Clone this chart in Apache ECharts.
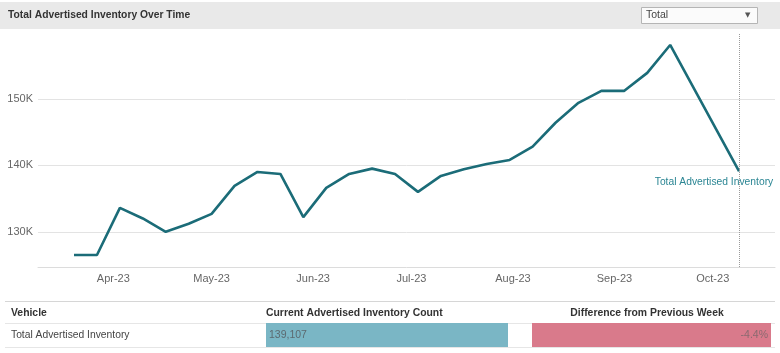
<!DOCTYPE html>
<html>
<head>
<meta charset="utf-8">
<script src="https://cdn.jsdelivr.net/npm/echarts@6/dist/echarts.min.js"></script>
<style>
  html, body { margin: 0; padding: 0; background: #fff; }
  #chart { width: 780px; height: 353px; }
</style>
</head>
<body>
<div id="chart"></div>
<script>
  // weekly snapshots (Mon) - two weeks in late Sep / early Oct have no value
  const weeks = [
    '2023-03-20', '2023-03-27', '2023-04-03', '2023-04-10', '2023-04-17', '2023-04-24',
    '2023-05-01', '2023-05-08', '2023-05-15', '2023-05-22', '2023-05-29', '2023-06-05',
    '2023-06-12', '2023-06-19', '2023-06-26', '2023-07-03', '2023-07-10', '2023-07-17',
    '2023-07-24', '2023-07-31', '2023-08-07', '2023-08-14', '2023-08-21', '2023-08-28',
    '2023-09-04', '2023-09-11', '2023-09-18', '2023-09-25', '2023-10-02', '2023-10-09'
  ]
  const inventory = [
    126500, 126500, 133600, 132000, 130000, 131200,
    132700, 136900, 139000, 138700, 132200, 136600,
    138700, 139500, 138700, 136000, 138400, 139400,
    140200, 140800, 142800, 146400, 149400, 151200,
    151200, 153900, 158100, null, null, 139107
  ]
  const yTicks = [130000, 140000, 150000]
  const seriesName = 'Total Advertised Inventory'

  const tableHeaders = ['Vehicle', 'Current Advertised Inventory Count', 'Difference from Previous Week']
  const tableVehicle = ['Total Advertised Inventory']
  const tableCount = [139107]
  const tableDiff = [-4.4]

  const teal = '#1b6c78'
  const font = 'Liberation Sans, Arial, sans-serif'

  const lastIdx = weeks.length - 1
  const lineData = weeks.map((d, i) => [d, inventory[i]])

  const chart = echarts.init(document.getElementById('chart'), null, { renderer: 'canvas' })

  const option = {
    animation: false,
    textStyle: { fontFamily: font },
    grid: [
      { left: 38, right: 5, top: 33, height: 234 },
      { left: 266, top: 323, width: 242, height: 24 },
      { left: 532, top: 323, width: 239, height: 24 }
    ],
    xAxis: [
      {
        type: 'time',
        gridIndex: 0,
        min: '2023-03-09',
        max: '2023-10-20',
        splitNumber: 7,
        maxInterval: 31 * 86400000,
        axisLine: { lineStyle: { color: '#dcdcdc', width: 1 } },
        axisTick: { show: false },
        splitLine: { show: false },
        axisLabel: {
          formatter: '{MMM}-{yy}',
          color: '#666',
          fontSize: 11,
          margin: 6,
          showMinLabel: false,
          showMaxLabel: false
        }
      },
      { type: 'value', gridIndex: 1, min: 0, max: 'dataMax', show: false },
      { type: 'value', gridIndex: 2, min: 'dataMin', max: 0, show: false }
    ],
    yAxis: [
      {
        type: 'value',
        gridIndex: 0,
        min: 124700,
        max: 159900,
        axisLine: { show: false },
        axisTick: { show: false, customValues: yTicks },
        splitLine: { lineStyle: { color: '#e3e3e3', width: 1 } },
        axisLabel: {
          customValues: yTicks,
          color: '#666',
          fontSize: 11,
          margin: 5,
          formatter: v => (v / 1000) + 'K'
        }
      },
      { type: 'category', gridIndex: 1, data: tableVehicle, show: false },
      { type: 'category', gridIndex: 2, data: tableVehicle, show: false }
    ],
    series: [
      {
        name: seriesName,
        type: 'line',
        xAxisIndex: 0,
        yAxisIndex: 0,
        data: lineData,
        connectNulls: true,
        showSymbol: false,
        symbol: 'none',
        lineStyle: { color: teal, width: 2.6 },
        markLine: {
          silent: true,
          symbol: 'none',
          label: { show: false },
          lineStyle: { color: '#9a9a9a', type: 'dotted', width: 1 },
          data: [{ xAxis: weeks[lastIdx] }]
        },
        markPoint: {
          silent: true,
          symbol: 'circle',
          symbolSize: 1,
          itemStyle: { color: teal },
          label: {
            show: true,
            position: 'bottom',
            distance: 5,
            offset: [-25, 0],
            formatter: seriesName,
            color: '#2a8593',
            fontSize: 10.3
          },
          data: [{ coord: [weeks[lastIdx], inventory[lastIdx]] }]
        }
      },
      {
        type: 'bar',
        xAxisIndex: 1,
        yAxisIndex: 1,
        data: tableCount,
        barWidth: '100%',
        itemStyle: { color: '#7ab6c5' },
        silent: true
      },
      {
        type: 'bar',
        xAxisIndex: 2,
        yAxisIndex: 2,
        data: tableDiff,
        barWidth: '100%',
        itemStyle: { color: '#d97a8b' },
        silent: true
      }
    ],
    graphic: [
      // header band + dropdown
      { type: 'rect', z: -1, shape: { x: 0, y: 2, width: 780, height: 27 }, style: { fill: '#e9e9e9' } },
      {
        type: 'text', left: 8, top: 10,
        style: { text: 'Total Advertised Inventory Over Time', fill: '#333', font: 'bold 10.3px ' + font }
      },
      { type: 'rect', shape: { x: 641.5, y: 7.5, width: 116, height: 16 }, style: { fill: '#fbfbfb', stroke: '#b5b5b5', lineWidth: 1 } },
      { type: 'text', left: 646, top: 10, style: { text: 'Total', fill: '#444', font: '10.5px ' + font } },
      { type: 'text', left: 745, top: 12, style: { text: '▼', fill: '#555', font: '7px DejaVu Sans' } },
      // table rules
      { type: 'line', shape: { x1: 5, y1: 301.5, x2: 775, y2: 301.5 }, style: { stroke: '#d6d6d6', lineWidth: 1 } },
      { type: 'line', shape: { x1: 5, y1: 323.5, x2: 775, y2: 323.5 }, style: { stroke: '#e6e6e6', lineWidth: 1 } },
      { type: 'line', shape: { x1: 5, y1: 347.5, x2: 775, y2: 347.5 }, style: { stroke: '#e6e6e6', lineWidth: 1 } },
      // table header
      { type: 'text', left: 11, top: 308, style: { text: tableHeaders[0], fill: '#333', font: 'bold 10.4px ' + font } },
      { type: 'text', left: 266, top: 308, style: { text: tableHeaders[1], fill: '#333', font: 'bold 10.4px ' + font } },
      {
        type: 'text', x: 647, y: 308,
        style: { text: tableHeaders[2], fill: '#333', font: 'bold 10.4px ' + font, textAlign: 'center' }
      },
      // table row
      { type: 'text', left: 11, top: 330, style: { text: tableVehicle[0], fill: '#444', font: '10.3px ' + font } },
      { type: 'text', left: 269, top: 330, z: 10, style: { text: tableCount[0].toLocaleString('en-US'), fill: '#5c6a70', font: '10.5px ' + font } },
      {
        type: 'text', x: 768, y: 330, z: 10,
        style: { text: tableDiff[0].toFixed(1) + '%', fill: '#8a6a70', font: '10.5px ' + font, textAlign: 'right' }
      }
    ]
  }

  chart.setOption(option)
</script>
</body>
</html>
